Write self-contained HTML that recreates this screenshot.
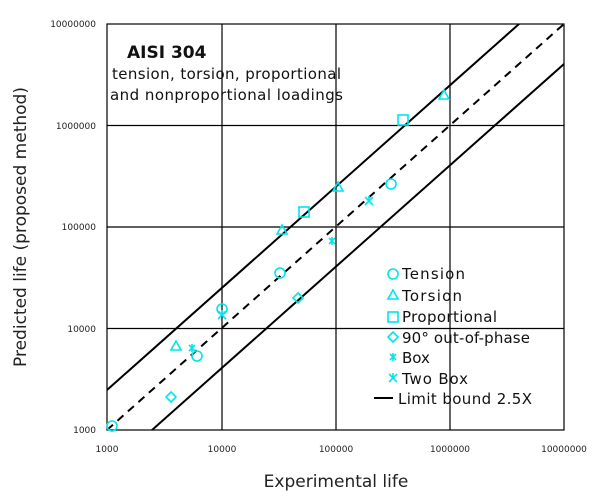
<!DOCTYPE html><html><head><style>body{margin:0;background:#fff}svg{font-family:"DejaVu Sans","Liberation Sans",sans-serif}</style></head><body>
<svg width="600" height="497" xmlns="http://www.w3.org/2000/svg">
<defs><clipPath id="c"><rect x="107" y="24" width="457" height="406"/></clipPath></defs>
<g stroke="#000" stroke-width="1.2">
<line x1="222" y1="24" x2="222" y2="430"/><line x1="336" y1="24" x2="336" y2="430"/><line x1="450" y1="24" x2="450" y2="430"/>
<line x1="107" y1="125.5" x2="564" y2="125.5"/><line x1="107" y1="227" x2="564" y2="227"/><line x1="107" y1="328.5" x2="564" y2="328.5"/>
<rect x="107" y="24" width="457" height="406" fill="none"/>
</g>
<g id="ticks" stroke="#000" stroke-width="1"></g>
<g clip-path="url(#c)" stroke="#000" stroke-width="2" fill="none">
<line x1="107" y1="430" x2="564" y2="24" stroke-dasharray="8,6"/>
<line x1="107" y1="390" x2="564" y2="-16"/>
<line x1="107" y1="470" x2="564" y2="64"/>
</g>
<g fill="none" stroke="#00e5ee" stroke-width="1.6">
<circle cx="112" cy="426" r="5"/><circle cx="197" cy="356" r="5"/><circle cx="222" cy="309" r="5"/><circle cx="280" cy="273" r="5"/><circle cx="391" cy="184" r="5"/>
<path d="M176 341l5 9h-10zM282 225l5 9h-10zM338 182l5 9h-10zM444 90l5 9h-10z"/>
<rect x="299" y="207" width="10" height="10"/><rect x="398" y="115" width="10" height="10"/>
<path d="M171 392l5 5-5 5-5-5zM298 293l5 5-5 5-5-5z"/>
<path d="M329 238l6 6M335 238l-6 6M332 237v8M189 345l6 6M195 345l-6 6M192 344v8"/>
<path d="M365 197l8 8M373 197l-8 8M369 196v5M218 311l8 8M226 311l-8 8M222 310v5"/>
<circle cx="393" cy="274" r="5"/><path d="M393 290l5 9h-10z"/><rect x="388" y="312" width="10" height="10"/><path d="M393 332l5 5-5 5-5-5z"/><path d="M390 354l6 6M396 354l-6 6M393 353v8M389 374l8 8M397 374l-8 8M393 373v5"/>
</g>
<line x1="374" y1="398" x2="393" y2="398" stroke="#000" stroke-width="2"/>
<g font-size="15" fill="#111">
<text x="402" y="279" textLength="63">Tension</text><text x="402" y="301" textLength="60">Torsion</text><text x="402" y="322" textLength="95">Proportional</text><text x="402" y="343" textLength="128">90° out-of-phase</text><text x="402" y="363">Box</text><text x="402" y="384" textLength="66">Two Box</text><text x="398" y="404" textLength="134">Limit bound 2.5X</text>
<text x="127" y="58" font-weight="bold" font-size="17">AISI 304</text>
<text x="112" y="79" textLength="229">tension, torsion, proportional</text><text x="110" y="100" textLength="233">and nonproportional loadings</text>
</g>
<g font-size="9" fill="#222" text-anchor="middle">
<text x="107" y="452">1000</text><text x="222" y="452">10000</text><text x="336" y="452">100000</text><text x="450" y="452">1000000</text><text x="564" y="452">10000000</text>
</g>
<g font-size="9" fill="#222" text-anchor="end">
<text x="96" y="27">10000000</text><text x="96" y="129">1000000</text><text x="96" y="230">100000</text><text x="96" y="332">10000</text><text x="96" y="433">1000</text>
</g>
<text x="336" y="487" font-size="17" fill="#222" text-anchor="middle">Experimental life</text>
<text transform="translate(26,227) rotate(-90)" font-size="17" fill="#222" text-anchor="middle">Predicted life (proposed method)</text>
<script>
var g=document.getElementById('ticks'),s='';
for(var d=0;d<4;d++)for(var k=2;k<10;k++){var f=Math.log10(k);
var x=107+(d+f)*114.25;s+='<line x1="'+x+'" y1="430" x2="'+x+'" y2="426"/>';
var y=430-(d+f)*101.5;s+='<line x1="107" y1="'+y+'" x2="111" y2="'+y+'"/>';}
g.innerHTML=s;
</script>
</svg></body></html>
